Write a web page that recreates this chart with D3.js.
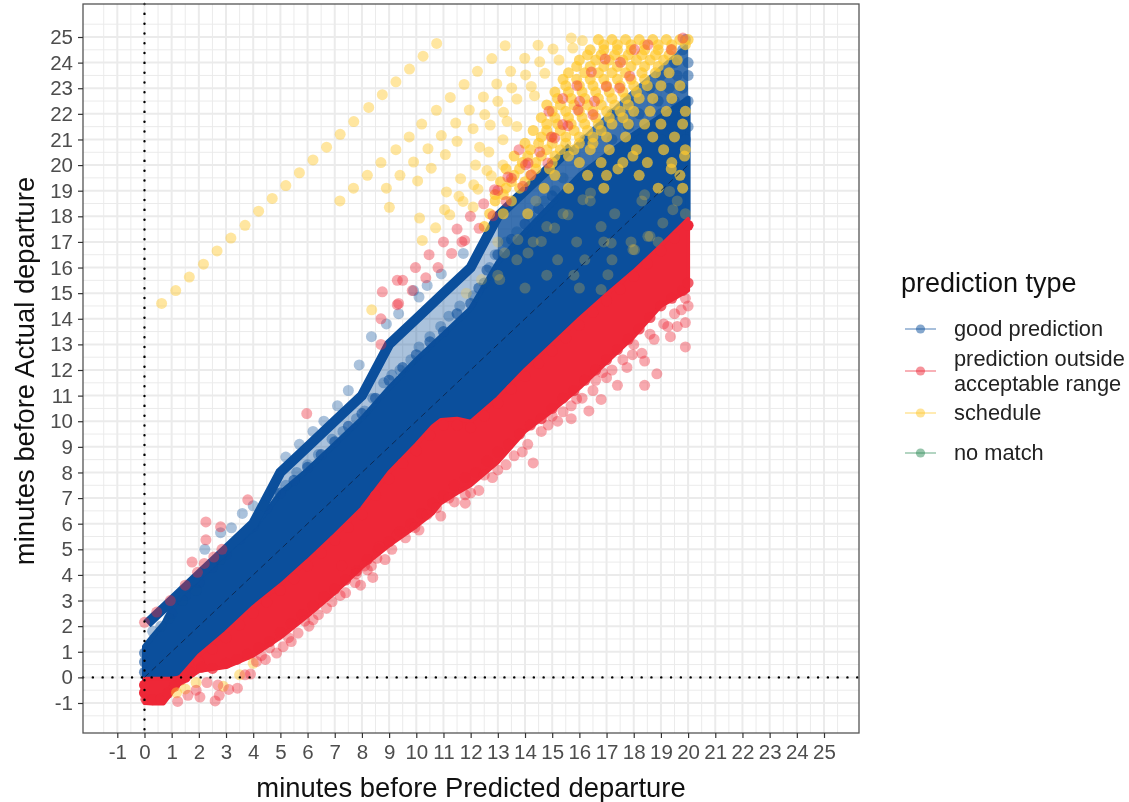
<!DOCTYPE html>
<html>
<head>
<meta charset="utf-8">
<title>Predicted vs actual departure</title>
<script src="https://cdnjs.cloudflare.com/ajax/libs/d3/7.8.5/d3.min.js"></script>
<style>
    html, body { margin: 0; padding: 0; background: #fff; }
    svg { display: block; font-family: "Liberation Sans", Helvetica, Arial, sans-serif; filter: blur(0.5px); }
    .tick text { fill: #4d4d4d; font-size: 20.5px; }
    .tick line { stroke: #333; stroke-width: 1.2px; }
    .domain { display: none; }
</style>
</head>
<body>
<svg width="1129" height="802"></svg>
<script>
    var tickValues = [-1,0,1,2,3,4,5,6,7,8,9,10,11,12,13,14,15,16,17,18,19,20,21,22,23,24,25];
    var xTickValues = tickValues;
    var yTickValues = tickValues;

    var colorGood = '#0b4f9c', colorRed = '#ee2737', colorSchedule = '#ffc72c', colorNoMatch = '#2e8b57';
    var legendLabels = [['good prediction'], ['prediction outside', 'acceptable range'], ['schedule'], ['no match']];

    var bandX     = [0,0.3,0.7,1,1.3,2,3,4,5,6,7,8,9,10,10.6,10.9,11.5,12,13,14,15,16,17,18,19,20];
    var goodTop   = [1.2,1.6,2.1,2.7,3.1,3.9,4.9,5.8,7.2,8.1,9.1,10.1,11.3,12.4,13,13.3,13.9,14.4,16.2,17.4,18.5,19.6,20.4,21.2,21.9,22.6];
    var redTop    = [-0.05,-0.05,-0.05,-0.05,0,0.85,1.75,2.75,3.6,4.55,5.55,6.6,8,9.1,9.8,10.05,10.1,9.98,10.9,12,13,14,14.95,15.85,16.85,17.9];
    var redBottom = [-1,-1.02,-1.02,-0.6,-0.25,0.25,0.4,0.85,1.55,2.4,3.3,4.3,5.15,5.9,6.4,6.8,7.2,7.5,8.4,9.6,10.4,11.3,12.3,13.3,14.5,15.1];

    // thick upper edge of good predictions
    var ridgeX = [0.1,1,2,3,4,5,6,7,8,9,10,11,12,13,14,15,15.7];
    var ridgeY = [2.1,3,4,5,6,8,9,10,11,13,14,15,16,18,19,20,20.7];

    // thinner blue between dense part and top edge
    var hazeLeftX   = [4,5,7,9,11,12,13];
    var hazeLeftTop = [6,7.8,9.8,12.8,14.8,15.8,17.8];
    var hazeLeftLow = [5,6.5,8.5,10.5,13,14,15.5];
    var hazeRightX   = [13,14,15.7,17,18,19,20];
    var hazeRightTop = [17.8,19,20.7,22,23,23.9,24.8];
    var hazeRightLow = [15.5,17,19,20,21,21.5,22];

    var goodFringe = [[0.3,1.8],[0.6,2.0],[0.9,2.3],[1.4,3.0],[1.9,3.4],[2.8,4.6],[4.4,6.7],[4.8,7.2],[5.2,7.5],[5.6,8],[6,8.3],[6.4,8.7],[6.9,9.3],[7.3,9.6],[7.8,10.1],[8.1,10.4],[8.4,10.9],[8.8,11.5],[9.1,11.8],[9.4,12],[9.8,12.4],[10.1,12.9],[10.5,13.3],[10.9,13.7],[11.2,14.1],[11.6,14.5],[12.1,14.9],[12.5,15.4],[12.7,16],[12.9,16.5],[13.3,17],[13.7,17.4],[14.2,18],[14.7,18.6],[15.1,19],[15.4,19.5],
        [5.2,8.6],[5.7,9.1],[6.2,9.6],[6.6,10],[7.1,10.6],[7.5,11.2],[7.9,12.2],[8.35,13.3],[8.9,13.8],[9.35,14.2],[9.9,15.1],[10.1,14.85],[10.4,15.3],[10.92,15.75],[11.73,16.55],[3.2,5.84],[2.8,5.65],[2.22,5],[3.6,6.4],[4,6.7]];

    var goodEdge = [[0,0.2],[0,0.6],[0,0.95],[1,2.5],[1.5,3.2],[2,3.7],[2.5,4.3],[3,4.8],[3.5,5.4],[4,5.9],[4.5,6.6],[5,7.2],[5.5,7.7],[6,8.2],[6.5,8.7],[7,9.2],[7.5,9.8],[8,10.3],[8.5,10.9],[9,11.6],[9.5,12.1],[10,12.6],[10.5,13.1],[11,13.5],[11.5,14.2],[12,14.6],[12.3,15.2],[12.6,15.9],[13,16.5],[13.5,17.1],[14,17.7],[14.5,18.3],[15,18.8]];

    // rows: [y, [x, x, ...]]
    var goodUpperRows = [
        [24.9,[19.9]],[24.5,[19.8]],[24,[19.5,20]],[23.5,[19,19.6,20]],[23,[18.6,19.3,19.8]],
        [22.5,[17.8,18.9,19.5,20]],[22,[17.2,18.2,19,19.8]],[21.5,[16.8,17.8,18.7,19.4,20]],[21,[16.2,17.2,18.3,19,19.9]]
    ];

    var scheduleSparse = [[0.63,14.6],[1.15,15.1],[1.65,15.63],[2.17,16.13],[2.67,16.65],[3.18,17.15],[3.7,17.65],[4.2,18.2],[4.7,18.7],[5.2,19.2],[5.7,19.7],[6.2,20.2],[6.7,20.7],[7.2,21.2],[7.7,21.7],[8.25,22.25],[8.75,22.75],[9.25,23.25],[9.75,23.75],[10.25,24.25],[10.75,24.75],
        [7.19,18.6],[7.69,19.1],[8.2,19.6],[8.7,20.1],[9.25,20.6],[9.74,21.1],[9.01,18.35],[8.9,19.1],[9.4,19.6],[8.36,14.35],[10.2,21.6],
        [13.27,24.66],[14.48,24.68],[15.03,24.53],[15.7,24.96],[16.11,24.86],[15.76,24.57],[12.78,24.16],[13.99,24.17],[14.54,24.03],[15.25,24.1],[12.25,23.66],[13.47,23.66],[14.02,23.52],[14.73,23.58],[11.76,23.15],[12.96,23.17],[13.51,23.01],[14.23,23.07],[11.25,22.64],[12.47,22.66],[13.0,22.49],[13.7,22.58],[14.35,22.71],[10.74,22.14],[11.95,22.15],[12.52,21.97],[13.21,22.06],[11.45,21.64],[12.09,21.42],[12.72,21.56],[13.34,21.71],[10.92,21.15],[11.5,20.93],[12.33,20.7],[13.19,20.99],[13.7,21.51],[10.43,20.64],[11.07,20.41],[12.67,20.51],[9.9,20.12],[10.55,19.88],[12.18,20.0],[13.19,20.0],[10.05,19.38],[11.63,19.47],[12.6,19.79],[12.76,19.58],[12.11,19.23],[12.27,19.06],[11.11,18.95],[11.57,18.78],[11.72,18.58],[12.09,18.36],[11.04,18.26],[11.23,18.06],[10.12,17.93],[10.71,17.55],[10.22,17.06],
        [1.18,-0.6],[1.5,-0.45],[1.9,-0.2],[2.9,-0.35],[3.5,0.1],[4,0.55]];

    // schedule points lying under the blue cloud, hardly visible there
    var scheduleUnderGood = [[17.05,15.72],[17.97,16.7],[18.6,17.22],[19.32,16.24],[19.87,16.7],[17.17,16.96],[13.25,16.57],[13.74,17.09],[14.6,17.02],[14.11,16.57],[13.07,15.53],[12.4,15.53],[11.84,15.0],[19.69,17.28],[16.8,15.14],
        [16.41,18.91],[18.4,18.84],[19.32,18.97],[19.44,18.26],[19.07,17.74],[18.52,17.22],[18.03,16.69],[15.09,17.54],[15.58,18.06],[16.13,18.65],
        [13,17],[14.3,17],[15.9,17],[16.9,17],[17.9,17],[18.9,17],[13.7,16.3],[15.2,16.3],[16.2,16.3],[17.2,16.3],[13,15.7],[14.8,15.7],[15.8,15.7],[14,15.2],[16,15.2],[18,15.2],[14.8,17.6],[16.8,17.6],[15.4,18.1],[17.3,18.1],[19.9,18.1],[14.4,18.6],[16.4,18.6],[18.3,18.6],[19.6,18.6]];

    var scheduleRows = [
        [24.9,[16.7,17.2,17.7,18.2,18.7,19.2,19.7,20]],
        [24.7,[16.9,17.4,17.9,18.4,18.9,19.4,19.9]],
        [24.5,[16.4,16.9,17.4,17.9,18.4,18.9,19.4]],
        [24.3,[16.3,16.8,17.3,17.8,18.3,18.8,19.3]],
        [24.1,[16.0,16.6,17.1,17.6,18.1,18.6,19.1,19.6]],
        [23.85,[15.9,16.4,16.9,17.4,17.9,18.4,18.9]],
        [23.6,[15.6,16.2,16.7,17.2,17.7,18.3,18.8,19.3]],
        [23.35,[15.4,15.9,16.4,16.9,17.4,17.9,18.4]],
        [23.1,[15.5,16.0,16.5,17,17.5,18,18.5,19,19.7]],
        [22.85,[15.1,15.6,16.1,16.6,17.1,17.6,18.1]],
        [22.6,[15.2,15.7,16.2,16.7,17.2,17.7,18.2,18.7,19.4]],
        [22.35,[14.8,15.3,15.8,16.3,16.8,17.3,17.8]],
        [22.1,[15,15.5,16,16.5,17,17.5,18,18.6,19.2,19.9]],
        [21.85,[14.6,15.1,15.6,16.1,16.6,17.1,17.6]],
        [21.6,[14.8,15.2,15.7,16.2,16.7,17.2,17.8,18.4,19,19.8]],
        [21.35,[14.3,14.8,15.3,15.8,16.3,16.8]],
        [21.1,[14.6,15,15.5,16,16.5,17,17.7,18.7,19.5]],
        [20.85,[14,14.5,15,15.5,16,16.5]],
        [20.6,[14.2,14.8,15.3,15.8,16.4,17.1,18.1,19.1,19.9]],
        [20.35,[13.6,14.1,14.6,15.1,15.6,17.97,19.87]],
        [20.1,[13.9,14.4,15,16,16.8,17.6,18.5,19.4]],
        [19.85,[13.3,13.8,14.4,14.9,17.42,19.38]],
        [19.6,[13.6,14.2,15.1,16.3,17,18.2,19.7]],
        [19.35,[13.1,13.5,14]],
        [19.1,[13.3,13.8,14.7,15.6,16.9,18.9,19.8]],
        [18.85,[12.9,13.2]],
        [18.6,[12.9,13.5]],
        [18.1,[12.7,13.2,14.1]],
        [17.6,[12.5]]
    ];

    var redPoints = [[11.99,18],[11.5,17.5],[11,17],[11.78,17.06],[11.68,17],[11.3,16.55],[10.47,16.5],[9.97,16],[10.8,16],[10.35,15.6],[9.3,15.5],[9.5,15.5],[8.75,15.05],[9.85,15.1],[9.3,14.55],[9.35,14.6],[8.7,14],[8.7,13],
        [12.31,17.53],[12.48,18.49],[12.82,18.02],[12.88,19.04],[13,19.01],[13.37,19.53],[13.5,19.49],[14.02,20.01],[14.11,20.08],[13.31,18.58],[13.78,20.6],[14.54,20.51],[14.88,22.1],[15.39,22.6],[15.91,23.1],[16.44,23.63],[16.95,24.14],[17.51,24.01],[18.03,24.51],[16.01,22.49],[16.56,22.49],[15.95,22.16],[15.39,21.58],[15.58,21.54],[14.97,21.1],[15.09,21.06],[14.84,20.08],[14.23,19.62],[13.92,19.17],[16.5,21.97],[16.99,23.07],[17.48,23.01],[17.85,23.47],[18.52,24.7],[19.81,24.96],[19.38,24.51],
        [5.97,10.3],[2.26,6.07],[2.8,5.88],[2.26,5.37],[1.75,4.5],[3.8,6.93],[0,2.15],[0.45,2.55],[0.95,3.0],[1.5,3.6],[1.95,4.1],[2.2,4.45],[2.55,4.7],[2.85,5],
        [1.22,-0.94],[2.6,-0.92],[2.04,-0.77],[2.75,-0.7],[3.1,-0.47],[3.42,-0.42],[2.7,-0.3],[2.3,-0.2],[1.9,-0.5],[1.6,-0.7],[3.7,0.1],[3.9,0.13],[4.12,0.62],[4.45,0.7],[4.86,0.95],[4.6,1.15],[5.1,1.2],[5.4,1.4],[5.65,1.73],[6.05,2.0],[6.2,2.25],[6.7,2.7],[7.2,3.2],[7.75,3.7],[8.4,3.9],[8.2,4.2],[8.55,4.65],
        [7.26,4.36],[7.8,4.04],[8.1,4.35],[8.65,5.1],[9.3,5.57],[9.95,5.85],[10.4,6.35],[10.75,6.62],[11.2,7],[11.8,7.13],[12.8,7.8],[11.8,6.8],[12.3,7.3],[13.3,8.3],[13.9,8.8],[14.3,8.37],[14.85,9.85],[15.7,10.1],[16.35,10.4],[16.8,10.85],[17.4,11.4],[18.4,11.4],[18.85,11.85],[18.4,12.35],[17.75,12.1],[19.9,12.9],[19.35,13.3],[18.75,13.2],[18.3,12.65],[17.95,12.6],[19.9,13.85],[19.6,13.7],[19.25,13.7],[19.75,14.35],[19.9,14.8],[15.4,10.37],[15.9,10.87],[15,10.2],[16.85,11.9],[16.6,11.6],[17.2,12],
        [4.3,0.85],[5.3,1.55],[5.9,2.2],[6.4,2.45],[6.9,2.95],[7.4,3.3],[7.95,3.6],[8.35,4.35],[8.85,4.6],[9.1,5],[9.6,5.45],[10.1,5.75],[10.9,6.3],[11.4,6.85],[12,7.2],[12.5,7.9],[13,8.1],[13.6,8.65],[14.1,9.1],[14.6,9.6],[15.2,10],[15.7,10.6],[16.1,10.9],[16.5,11.2],[17,11.7],[17.6,12.4],[18,13],[18.6,13.4],[19.1,13.8],[19.5,14.2],[20,14.5]];

    // circles that make the scalloped rims of the red band
    var redTopEdge = [[0,-0.3],[0,-0.6],[1.5,0],[2,0.6],[2.5,1.1],[3,1.55],[3.5,2.05],[4,2.5],[4.5,2.95],[5,3.4],[5.5,3.85],[6,4.35],[6.5,4.85],[7,5.35],[7.5,5.85],[8,6.35],[8.5,7.1],[9,7.75],[9.5,8.35],[10,8.85],[10.5,9.45],[11,9.85],[11.5,9.85],[12,9.75],[12.5,10.2],[13,10.7],[13.5,11.25],[14,11.75],[14.5,12.25],[15,12.75],[15.5,13.25],[16,13.75],[16.5,14.25],[17,14.7],[17.5,15.15],[18,15.65],[18.5,16.15],[19,16.65],[19.5,17.15],[20,17.65]];
    var redBottomEdge = [[0.05,-0.85],[0.3,-0.87],[0.6,-0.85],[0.85,-0.62],[1.1,-0.35],[1.35,-0.1],[1.7,0.2],[2.1,0.4],[2.5,0.35],[3,0.55],[3.4,0.7],[3.8,0.9],[4.2,1.15],[4.6,1.4],[5,1.75],[5.4,2.1],[5.8,2.45],[6.2,2.8],[6.6,3.15],[7,3.45],[7.4,3.8],[7.8,4.15],[8.2,4.6],[8.6,5],[9,5.3],[9.4,5.7],[9.8,6],[10.2,6.4],[10.6,6.8],[11,7.1],[11.4,7.5],[11.8,7.8],[12.2,8],[12.6,8.45],[13,8.8],[13.4,9.1],[13.8,9.5],[14.2,9.85],[14.6,10.1],[15,10.5],[15.4,10.9],[15.8,11.2],[16.2,11.6],[16.6,12],[17,12.4],[17.4,12.8],[17.8,13.2],[18.2,13.6],[18.6,14.05],[19,14.5],[19.4,14.8],[19.8,15.1],[20,15.4]];

    var identityLine = [0, 20];

    function rowsToPoints(rows) {
        var out = [];
        rows.forEach(function (r) {
            r[1].forEach(function (xv) { out.push([xv, r[0]]); });
        });
        return out;
    }

    var panel = {left: 83, right: 859, top: 4, bottom: 733};
    var xScale = d3.scaleLinear().domain([-1, 25]).range([117.3, 824]);
    var yScale = d3.scaleLinear().domain([-1, 25]).range([703, 37]);
    var svg = d3.select('svg');

    // grid
    var minorTicks = tickValues.map(function (t) { return t + 0.5; }).concat([-1.5]);
    var grid = svg.append('g');
    function gridLines(values, width) {
        grid.selectAll(null).data(values).enter().append('line')
            .attr('x1', function (d) { return xScale(d); }).attr('x2', function (d) { return xScale(d); })
            .attr('y1', panel.top).attr('y2', panel.bottom)
            .attr('stroke', '#ebebeb').attr('stroke-width', width);
        grid.selectAll(null).data(values).enter().append('line')
            .attr('y1', function (d) { return yScale(d); }).attr('y2', function (d) { return yScale(d); })
            .attr('x1', panel.left).attr('x2', panel.right)
            .attr('stroke', '#ebebeb').attr('stroke-width', width);
    }
    gridLines(minorTicks, 1);
    gridLines(tickValues, 2);

    // bands
    var marks = svg.append('g');
    function band(xs, tops, lows, color, opacity, edge) {
        var area = d3.area()
            .x(function (d) { return xScale(xs[d]); })
            .y0(function (d) { return yScale(lows[d]); })
            .y1(function (d) { return yScale(tops[d]); });
        marks.append('path').attr('d', area(d3.range(xs.length)))
            .attr('fill', color).attr('fill-opacity', opacity)
            .attr('stroke', color).attr('stroke-opacity', edge ? 1 : 0)
            .attr('stroke-width', edge).attr('stroke-linejoin', 'round');
    }
    function dots(points, color, opacity) {
        marks.selectAll(null).data(points).enter().append('circle')
            .attr('cx', function (d) { return xScale(d[0]); })
            .attr('cy', function (d) { return yScale(d[1]); })
            .attr('r', 5.5)
            .attr('fill', color).attr('fill-opacity', opacity);
    }

    band(hazeLeftX, hazeLeftTop, hazeLeftLow, colorGood, 0.35, 0);
    band(hazeRightX, hazeRightTop, hazeRightLow, colorGood, 0.8, 0);
    band(bandX, goodTop, redTop, colorGood, 1, 5);
    dots(goodEdge, colorGood, 0.6);
    marks.append('path')
        .attr('d', d3.line().x(function (d) { return xScale(ridgeX[d]); }).y(function (d) { return yScale(ridgeY[d]); })(d3.range(ridgeX.length)))
        .attr('fill', 'none').attr('stroke', colorGood).attr('stroke-width', 10).attr('stroke-linejoin', 'round');
    dots(goodFringe, colorGood, 0.35);
    dots(rowsToPoints(goodUpperRows), colorGood, 0.5);
    dots(scheduleUnderGood, colorSchedule, 0.25);
    band(bandX, redTop, redBottom, colorRed, 1, 4);
    dots(redTopEdge, colorRed, 1);
    dots(redBottomEdge, colorRed, 0.75);
    dots(scheduleSparse, colorSchedule, 0.45);
    dots(rowsToPoints(scheduleRows), colorSchedule, 0.7);
    dots(redPoints, colorRed, 0.4);

    // identity line
    marks.append('line')
        .attr('x1', xScale(identityLine[0])).attr('y1', yScale(identityLine[0]))
        .attr('x2', xScale(identityLine[1])).attr('y2', yScale(identityLine[1]))
        .attr('stroke', '#0b2a55').attr('stroke-width', 1).attr('stroke-dasharray', '6,4');

    // dotted zero lines
    svg.append('line').attr('x1', xScale(0)).attr('x2', xScale(0)).attr('y1', panel.top).attr('y2', panel.bottom)
        .attr('stroke', '#000').attr('stroke-width', 2.4).attr('stroke-linecap', 'round').attr('stroke-dasharray', '0.1,9.7');
    svg.append('line').attr('y1', yScale(0)).attr('y2', yScale(0)).attr('x1', panel.left).attr('x2', panel.right)
        .attr('stroke', '#000').attr('stroke-width', 2.4).attr('stroke-linecap', 'round').attr('stroke-dasharray', '0.1,9.7');

    // border
    svg.append('rect').attr('x', panel.left).attr('y', panel.top)
        .attr('width', panel.right - panel.left).attr('height', panel.bottom - panel.top)
        .attr('fill', 'none').attr('stroke', '#555').attr('stroke-width', 1.3);

    // axes, hyphen minus in the labels as in the original
    svg.append('g').attr('transform', 'translate(0,' + panel.bottom + ')')
        .call(d3.axisBottom(xScale).tickValues(xTickValues).tickSize(5).tickPadding(6).tickFormat(String));
    svg.append('g').attr('transform', 'translate(' + panel.left + ',0)')
        .call(d3.axisLeft(yScale).tickValues(yTickValues).tickSize(5).tickPadding(5).tickFormat(String));
    svg.selectAll('.tick text').attr('font-family', null).style('font-family', 'inherit');

    svg.append('text').attr('x', 471).attr('y', 797).attr('text-anchor', 'middle')
        .attr('font-size', 27.4).attr('fill', '#111').text('minutes before Predicted departure');
    svg.append('text').attr('transform', 'translate(34,371) rotate(-90)').attr('text-anchor', 'middle')
        .attr('font-size', 27.4).attr('fill', '#111').text('minutes before Actual departure');

    // legend
    var legendColors = [colorGood, colorRed, colorSchedule, colorNoMatch];
    var legendY = [329, 371, 413, 453];
    svg.append('text').attr('x', 901).attr('y', 292).attr('font-size', 27).attr('fill', '#111').text('prediction type');
    var key = svg.append('g').selectAll('g').data(legendLabels).enter().append('g')
        .attr('transform', function (d, i) { return 'translate(0,' + legendY[i] + ')'; });
    key.append('line').attr('x1', 905).attr('x2', 936)
        .attr('stroke', function (d, i) { return legendColors[i]; }).attr('stroke-opacity', 0.45).attr('stroke-width', 1.6);
    key.append('circle').attr('cx', 920.5).attr('r', 4.6)
        .attr('fill', function (d, i) { return legendColors[i]; }).attr('fill-opacity', 0.5);
    key.each(function (d) {
        var g = d3.select(this);
        d.forEach(function (line, j) {
            g.append('text').attr('x', 954)
                .attr('y', 7 + (j - (d.length - 1) / 2) * 25)
                .attr('font-size', 21.8).attr('fill', '#222').text(line);
        });
    });
</script>
</body>
</html>
